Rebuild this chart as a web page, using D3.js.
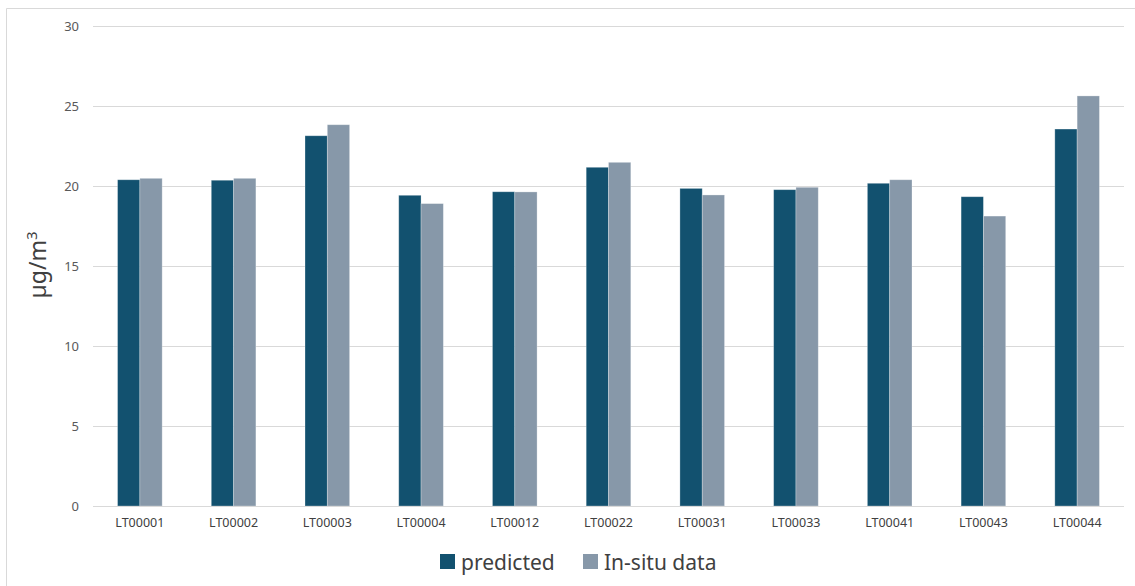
<!DOCTYPE html>
<html>
<head>
<meta charset="utf-8">
<script src="https://cdn.jsdelivr.net/npm/d3@7"></script>
<style>
  html, body { margin: 0; padding: 0; background: #fff; }
  svg { display: block; }
</style>
</head>
<body>
<svg id="chart" width="1135" height="586"></svg>
<script>
// Monitoring stations and annual mean concentrations (µg/m³)
const stations = ["LT00001","LT00002","LT00003","LT00004","LT00012","LT00022","LT00031","LT00033","LT00041","LT00043","LT00044"];
const predicted = [20.39, 20.36, 23.14, 19.42, 19.64, 21.17, 19.85, 19.77, 20.17, 19.33, 23.56];
const inSitu    = [20.48, 20.48, 23.83, 18.90, 19.63, 21.48, 19.44, 19.92, 20.39, 18.12, 25.63];
const seriesNames = ["predicted", "In-situ data"];
const yTicks = [0, 5, 10, 15, 20, 25, 30];

const colors = ["#12516f", "#8798a9"];
const svg = d3.select("#chart");
const W = 1135, H = 586;
const plot = { left: 93, right: 1124, top: 26, bottom: 506 };

// frame
svg.append("path")
  .attr("d", `M6.5,${H} V8.5 H${W}`)
  .attr("fill", "none")
  .attr("stroke", "#d9d9d9")
  .attr("stroke-width", 1);

const x = d3.scaleBand()
  .domain(stations)
  .range([plot.left, plot.right])
  .paddingInner(0.524)
  .paddingOuter(0.262);

const xs = d3.scaleBand()
  .domain(d3.range(seriesNames.length))
  .range([0, x.bandwidth()]);

const y = d3.scaleLinear().domain([0, 30]).range([plot.bottom, plot.top]);

// gridlines + y labels
const yAxis = d3.axisLeft(y)
  .tickValues(yTicks)
  .tickSize(-(plot.right - plot.left))
  .tickPadding(14)
  .tickFormat(d3.format("d"));

const gy = svg.append("g")
  .attr("transform", `translate(${plot.left},0)`)
  .call(yAxis);
gy.select(".domain").remove();
gy.selectAll(".tick line").attr("stroke", "#d9d9d9").attr("stroke-width", 1.2);
gy.selectAll(".tick text")
  .attr("fill", "#595959")
  .style("font-family", "'Noto Sans', sans-serif")
  .style("font-size", "13px");

// bars
const rows = stations.map((s, i) => ({ s, v: [predicted[i], inSitu[i]] }));
const groups = svg.append("g").selectAll("g")
  .data(rows).join("g")
  .attr("transform", d => `translate(${x(d.s)},0)`);

groups.selectAll("rect")
  .data(d => d.v.map((v, k) => ({ v, k })))
  .join("rect")
  .attr("x", d => xs(d.k))
  .attr("width", xs.bandwidth())
  .attr("y", d => y(d.v))
  .attr("height", d => y(0) - y(d.v))
  .attr("fill", d => colors[d.k])
  .attr("stroke", "#ffffff")
  .attr("stroke-opacity", 0.35)
  .attr("stroke-width", 0.8);

// x axis baseline and labels
svg.append("line")
  .attr("x1", plot.left).attr("x2", plot.right)
  .attr("y1", plot.bottom + 0.5).attr("y2", plot.bottom + 0.5)
  .attr("stroke", "#d9d9d9").attr("stroke-width", 1.2);

const xAxis = d3.axisBottom(x).tickSize(0).tickPadding(12);
const gx = svg.append("g")
  .attr("transform", `translate(0,${plot.bottom})`)
  .call(xAxis);
gx.select(".domain").remove();
gx.selectAll(".tick text")
  .attr("fill", "#404040")
  .style("font-family", "'Noto Sans', sans-serif")
  .style("font-size", "12.5px");

// y axis title
const yt = svg.append("text")
  .attr("transform", "translate(46,265) rotate(-90)")
  .attr("text-anchor", "middle")
  .attr("fill", "#404040")
  .style("font-family", "'Noto Sans', sans-serif")
  .style("font-size", "23px");
yt.append("tspan").text("µg/m");
yt.append("tspan").attr("dy", -9).style("font-size", "15px").text("3");

// legend
const legend = svg.append("g").attr("transform", "translate(440,562)");
const legX = [0, 143];
seriesNames.forEach((name, k) => {
  const g = legend.append("g").attr("transform", `translate(${legX[k]},0)`);
  g.append("rect")
    .attr("x", 0).attr("y", -8)
    .attr("width", 15).attr("height", 15)
    .attr("fill", colors[k]);
  g.append("text")
    .attr("x", 21).attr("y", 8)
    .attr("fill", "#404040")
    .style("font-family", "'Noto Sans', sans-serif")
    .style("font-size", "21px")
    .text(name);
});
</script>
</body>
</html>
